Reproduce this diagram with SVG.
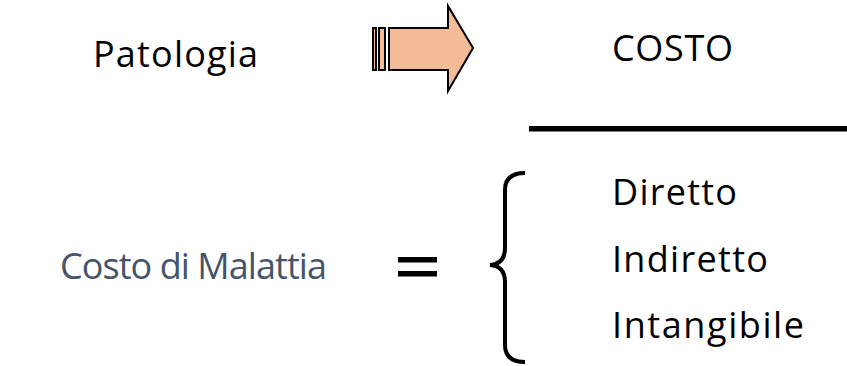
<svg xmlns="http://www.w3.org/2000/svg" width="847" height="366" viewBox="0 0 847 366">
  <style>
    .t { font-family: "Open Sans", "DejaVu Sans", sans-serif; font-size: 36px; fill: #000; }
    .blue { fill: #44546A; }
    .arrow { fill: #F4BC96; stroke: #000; stroke-width: 2; stroke-linejoin: miter; }
  </style>
  <rect width="847" height="366" fill="#fff"/>

  <g id="patologia">
    <text class="t" x="93" y="67" textLength="165">Patologia</text>
  </g>

  <g id="arrow">
    <rect class="arrow" x="373" y="28" width="3" height="42"/>
    <rect class="arrow" x="379" y="28" width="6" height="42"/>
    <path class="arrow" d="M389 28 H448 V6 L473 48 L448 91 V70 H389 Z"/>
  </g>

  <g id="costo">
    <text class="t" x="612" y="61" textLength="121">COSTO</text>
    <rect x="529" y="126" width="318" height="5.5" fill="#000"/>
  </g>

  <g id="malattia">
    <text class="t blue" x="60" y="279" textLength="267">Costo di Malattia</text>
  </g>

  <g id="equals">
    <rect x="398" y="257" width="39" height="5.5" fill="#000"/>
    <rect x="398" y="271" width="39" height="5.5" fill="#000"/>
  </g>

  <g id="brace">
    <path d="M525 173 Q505 173 505 190 V248 Q505 264 490 265 Q505 266 505 282 V345 Q505 362 525 362" fill="none" stroke="#000" stroke-width="4"/>
  </g>

  <g id="voci">
    <text class="t" x="612" y="205" textLength="125">Diretto</text>
    <text class="t" x="612" y="272" textLength="156">Indiretto</text>
    <text class="t" x="612" y="338" textLength="192">Intangibile</text>
  </g>
</svg>
